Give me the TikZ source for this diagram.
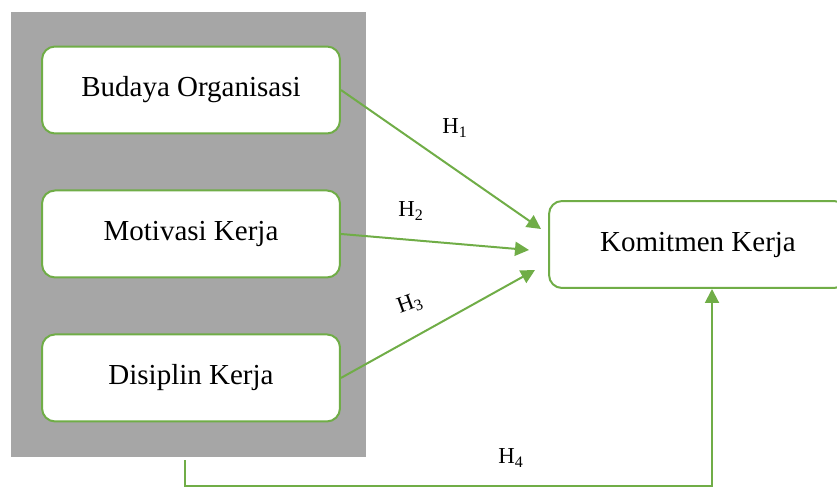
\documentclass[tikz,border=0pt]{standalone}
\usepackage{fontspec}
\setmainfont{Liberation Serif}
\usetikzlibrary{positioning,arrows.meta}
\definecolor{kerjaGreen}{RGB}{112, 173, 71}
\definecolor{kerjaGray}{RGB}{166, 166, 166}

\begin{document}
\begin{tikzpicture}[
      x=0.02cm, y=-0.02cm,
      box/.style={draw=kerjaGreen, line width=0.04cm, fill=white, rounded corners=0.26cm, minimum width=5.96cm, minimum height=1.74cm, align=center, font=\fontsize{16.5}{20}\selectfont},
      arrow/.style={-{Triangle[length=0.28cm, width=0.28cm]}, line width=0.04cm, kerjaGreen},
      hlabel/.style={font=\fontsize{13}{15}\selectfont}
    ]
      \useasboundingbox (0,0) rectangle (837,487);
      \fill[kerjaGray] (11,12) rectangle (366,457);
      \node[box] (budaya) at (191,90) {Budaya Organisasi};
      \node[box,below=1.1cm of budaya] (motivasi) {Motivasi Kerja};
      \node[box,below=1.1cm of motivasi] (disiplin) {Disiplin Kerja};
      \node[box] (komitmen) at (698,244.5) {Komitmen Kerja};
      \coordinate (t1) at (541,229);
      \coordinate (t2) at (529,250);
      \coordinate (t3) at (535,270);
      \coordinate (b1) at (185,460);
      \coordinate (b2) at (712,486);
      \draw[arrow] (budaya.east) -- (t1);
      \draw[arrow] (motivasi.east) -- (t2);
      \draw[arrow] (disiplin.east) -- (t3);
      \draw[arrow] (b1) |- (b2) -- (b2 |- komitmen.south);
      \node[hlabel] (h1) at (455,128) {H\textsubscript{1}};
      \node[hlabel] (h2) at (411,211) {H\textsubscript{2}};
      \node[hlabel,rotate=20] (h3) at (410,304) {H\textsubscript{3}};
      \node[hlabel] (h4) at (511,458) {H\textsubscript{4}};
    \end{tikzpicture}
\end{document}
